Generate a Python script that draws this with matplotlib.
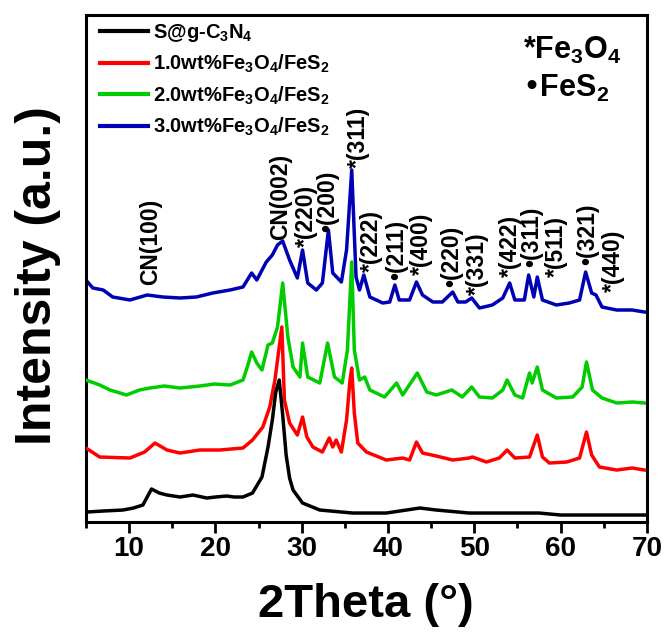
# -*- coding: utf-8 -*-
# XRD Muster: S@g-C3N4 und Fe3O4/FeS2 Komposite
import numpy as np
import matplotlib
matplotlib.use('Agg')
import matplotlib.pyplot as plt
from matplotlib.ticker import MultipleLocator

plt.rcParams['font.family'] = ['Liberation Sans', 'DejaVu Sans']
plt.rcParams['font.weight'] = 'bold'
plt.rcParams['mathtext.default'] = 'regular'

# DATEN (2Theta, Intensitaet in a.u.)
theta_black = [5.1, 7.0, 9.3, 10.5, 11.6, 12.6, 13.5, 14.4, 15.9, 17.4, 19.0, 20.0,
               21.3, 22.2, 23.2, 24.3, 25.4, 26.1, 26.6, 27.0, 27.4, 27.8, 28.2,
               28.6, 29.0, 30.1, 32.1, 35.9, 39.8, 43.7, 45.6, 49.4, 57.5, 60.0, 70.0]
int_black = [8, 9, 10, 12, 15, 31, 27, 25, 23, 25, 22, 23,
             24, 23, 23, 27, 43, 73, 100, 128, 140, 105, 65,
             42, 30, 17, 10, 7, 7, 12, 10, 7, 7, 5, 5]

theta_red = [5.0, 6.6, 10.1, 11.8, 13.0, 14.4, 15.9, 18.2, 20.5, 23.2, 24.3, 25.5,
             26.3, 26.9, 27.7, 28.0, 28.6, 29.5, 30.1, 30.6, 31.3, 32.4, 33.2,
             33.6, 34.0, 34.6, 35.2, 35.6, 35.8, 36.1, 36.5, 37.5, 39.8, 41.7,
             42.5, 43.3, 44.0, 45.6, 47.5, 49.4, 49.8, 51.4, 52.9, 53.8, 54.7,
             56.4, 57.3, 57.9, 58.7, 60.7, 62.2, 63.0, 63.6, 64.5, 66.5, 68.3, 69.7]
int_red = [72, 63, 62, 68, 77, 70, 67, 70, 70, 72, 80, 93,
           113, 140, 193, 120, 97, 85, 103, 83, 73, 68, 82,
           73, 80, 68, 100, 140, 152, 107, 77, 68, 60, 62,
           60, 78, 67, 64, 60, 62, 63, 58, 62, 70, 62,
           63, 85, 63, 57, 58, 62, 88, 65, 53, 50, 52, 50]

theta_green = [5.0, 6.6, 7.8, 9.7, 11.2, 12.4, 14.1, 15.9, 18.2, 19.9, 21.7, 23.2,
               23.7, 24.2, 24.8, 25.4, 26.1, 26.6, 27.2, 27.8, 28.4, 29.0, 29.8,
               30.1, 30.7, 32.1, 33.0, 33.8, 34.7, 35.3, 35.8, 36.1, 36.7, 37.3,
               37.9, 39.6, 41.0, 41.7, 43.4, 44.5, 45.6, 47.4, 48.6, 49.7, 50.6,
               52.1, 53.3, 53.8, 54.7, 55.6, 56.4, 56.7, 57.3, 57.9, 59.5, 61.4,
               62.5, 63.0, 63.7, 64.8, 66.5, 68.3, 69.7]
int_green = [140, 135, 130, 125, 130, 132, 134, 132, 134, 136, 135, 140,
             153, 168, 157, 150, 175, 177, 193, 237, 183, 153, 143,
             177, 143, 137, 177, 143, 137, 170, 258, 170, 140, 143,
             130, 123, 137, 125, 147, 128, 125, 130, 123, 133, 123,
             122, 130, 140, 125, 122, 147, 137, 153, 130, 122, 123,
             133, 158, 130, 122, 117, 118, 117]

theta_blue = [5.0, 5.8, 7.0, 8.1, 10.1, 12.1, 13.9, 15.9, 17.8, 19.7, 21.7, 23.2,
              24.2, 24.8, 25.9, 26.6, 27.2, 27.8, 28.6, 29.5, 30.1, 30.7, 31.7,
              32.4, 33.1, 33.6, 34.6, 35.2, 35.8, 36.3, 36.7, 37.2, 37.9, 39.4,
              40.2, 40.8, 41.3, 42.5, 43.3, 44.0, 45.2, 46.3, 47.5, 48.1, 49.0,
              49.7, 50.6, 52.1, 53.3, 54.1, 54.7, 55.8, 56.3, 56.9, 57.3, 57.9,
              59.5, 61.0, 62.2, 62.9, 63.6, 64.1, 64.8, 66.5, 68.3, 69.7]
int_blue = [240, 232, 230, 223, 220, 225, 223, 222, 223, 227, 230, 233,
            247, 240, 258, 265, 275, 279, 260, 242, 270, 237, 230,
            237, 290, 247, 238, 270, 350, 243, 230, 245, 223, 217,
            218, 235, 220, 220, 238, 225, 218, 218, 228, 218, 218,
            222, 212, 215, 222, 237, 220, 220, 245, 223, 243, 220,
            215, 217, 220, 248, 227, 225, 213, 210, 210, 208]

labels = [r'S@g-C$_3$N$_4$', r'1.0wt%Fe$_3$O$_4$/FeS$_2$',
          r'2.0wt%Fe$_3$O$_4$/FeS$_2$', r'3.0wt%Fe$_3$O$_4$/FeS$_2$']
colors = ['black', '#ff0000', '#00cc00', '#0000b4']

# Reflexe: Beschriftung, Position, Unterkante des Textes
peak_names = ['CN(100)', 'CN(002)', '*(220)', '•(200)', '*(311)', '*(222)', '•(211)',
              '*(400)', '•(220)', '*(331)', '*(422)', '•(311)', '*(511)', '•(321)', '*(440)']
peak_theta = [12.5, 27.6, 30.6, 33.0, 36.6, 38.1, 41.0, 43.9, 47.4, 50.4, 54.2,
              56.7, 59.5, 63.2, 66.1]
peak_bottom = [235, 280, 273, 288, 352, 248, 240, 245, 233, 225, 243, 253, 243, 255, 228]

# PLOT ERSTELLEN
fig = plt.figure(figsize=(6.66, 6.37), dpi=100)
ax = fig.add_axes([0.129, 0.1805, 0.8423, 0.796])

series = [(theta_black, int_black), (theta_red, int_red),
          (theta_green, int_green), (theta_blue, int_blue)]
zorders = [5, 4, 3, 2]
for (t, y), c, lab, z in zip(series, colors, labels, zorders):
    ax.plot(t, y, color=c, lw=2.5, label=lab, zorder=z)

for name, t, b in zip(peak_names, peak_theta, peak_bottom):
    ax.text(t, b, name, rotation=90, ha='center', va='bottom',
            fontsize=16.5, fontweight='bold', zorder=6)

ax.text(0.866, 0.931, r'*Fe$_3$O$_4$', transform=ax.transAxes, ha='center',
        va='center', fontsize=22, fontweight='bold')
ax.text(0.856, 0.856, r'•FeS$_2$', transform=ax.transAxes, ha='center',
        va='center', fontsize=22, fontweight='bold')

ax.set_xlim(5, 70)
ax.set_ylim(-2, 505)
ax.xaxis.set_major_locator(MultipleLocator(10))
ax.xaxis.set_minor_locator(MultipleLocator(5))
ax.tick_params(axis='x', which='major', direction='out', length=8, width=2,
               labelsize=20, pad=2)
ax.tick_params(axis='x', which='minor', direction='out', length=4, width=2)
ax.tick_params(axis='y', left=False, labelleft=False)
for lbl in ax.get_xticklabels():
    lbl.set_fontweight('bold')
for sp in ax.spines.values():
    sp.set_linewidth(2.2)

ax.set_xlabel('2Theta (°)', fontsize=34, fontweight='bold', va='center')
ax.xaxis.set_label_coords(0.499, -0.164)
ax.set_ylabel('Intensity (a.u.)', fontsize=36, fontweight='bold', va='center')
ax.yaxis.set_label_coords(-0.0856, 0.487)

leg = ax.legend(loc='upper left', bbox_to_anchor=(0.012, 1.0), frameon=False,
                fontsize=14.5, handlelength=2.4, handletextpad=0.25,
                labelspacing=0.45, borderpad=0.35, borderaxespad=0)
for line in leg.get_lines():
    line.set_linewidth(3)

# PLOT SPEICHERN
fig.savefig('out.png', dpi=100)
